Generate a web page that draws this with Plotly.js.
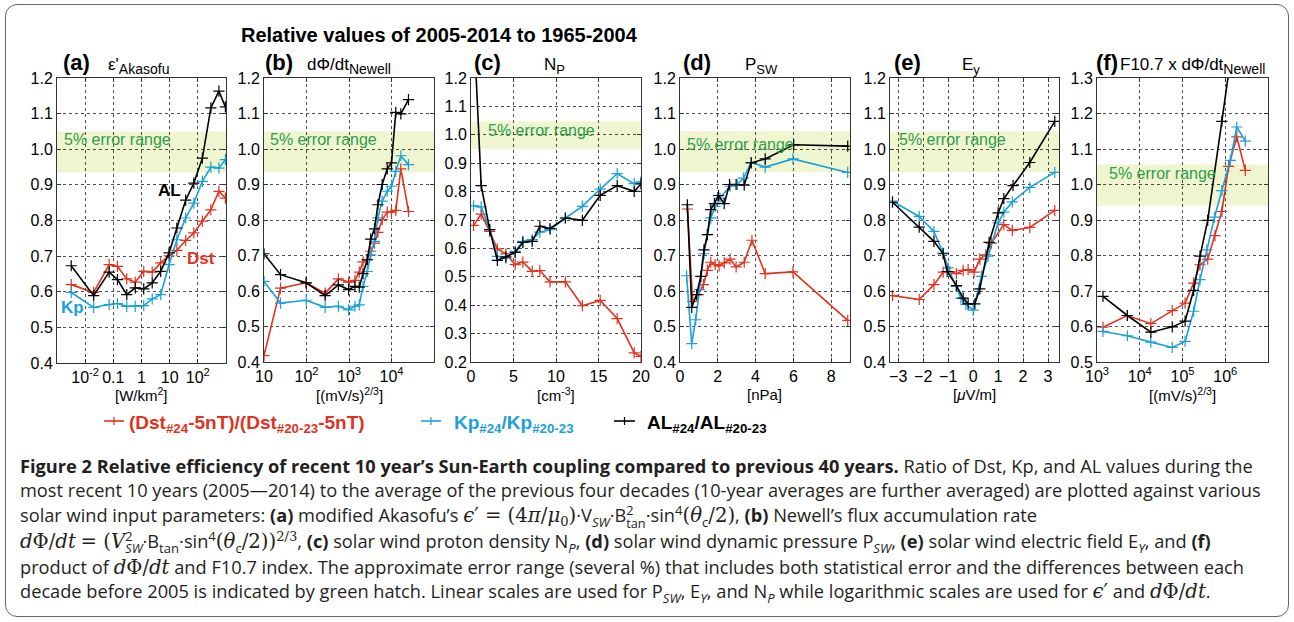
<!DOCTYPE html>
<html><head><meta charset="utf-8">
<script src="https://cdn.plot.ly/plotly-3.0.1.min.js"></script>
<style>
body{margin:0;background:#fff;}
#wrap{position:relative;width:1294px;height:622px;overflow:hidden;background:#fff;}
#frame{position:absolute;left:5px;top:4px;width:1284px;height:613px;border:1px solid #666;border-radius:12px;box-sizing:border-box;}
#chart{position:absolute;left:0;top:0;width:1294px;height:622px;}
#cap{position:absolute;left:20px;top:454px;font-family:'Open Sans',sans-serif;font-size:16px;line-height:24.4px;color:#231f20;white-space:nowrap;}
#cap b{font-weight:700;}
.m{font-family:'DejaVu Serif','Liberation Serif',serif;font-style:italic;font-size:1.08em;line-height:0;}
.r{font-family:'DejaVu Serif','Liberation Serif',serif;font-size:1.08em;line-height:0;}
.rf{font-family:'DejaVu Serif','Liberation Serif',serif;}
.stack{display:inline-block;vertical-align:-0.45em;line-height:0.95;font-size:0.7em;text-align:left;}
.stack span{display:block;}
sub,sup{font-size:0.72em;line-height:0;}
</style></head>
<body>
<div id="wrap">
<div id="chart"></div>
<div id="frame"></div>
<div id="cap">
<div id="l1"><b>Figure 2 Relative efficiency of recent 10 year’s Sun-Earth coupling compared to previous 40 years.</b> Ratio of Dst, Kp, and AL values during the</div>
<div id="l2"><span id="l2s">most recent 10 years (2005—2014) to the average of the previous four decades (10-year averages are further averaged) are plotted against various</span></div>
<div id="l3">solar wind input parameters: <b>(a)</b> modified Akasofu’s <span class="m">ϵ</span><span class="r">′ = (4</span><span class="m">π</span><span class="r">/</span><span class="m">μ</span><sub><span class="rf">0</span></sub><span class="r">)</span>·V<sub><i>SW</i></sub>·B<span class="stack"><span>2</span><span>tan</span></span>·sin<sup>4</sup><span class="r">(</span><span class="m">θ</span><sub>c</sub><span class="r">/2)</span>, <b>(b)</b> Newell’s flux accumulation rate</div>
<div id="l4"><span class="m">d</span><span class="r">Φ/</span><span class="m">dt</span> <span class="r">= (</span><span class="m">V</span><span class="stack"><span>2</span><span><i>SW</i></span></span>·B<sub>tan</sub>·sin<sup>4</sup><span class="r">(</span><span class="m">θ</span><sub>c</sub><span class="r">/2))</span><sup><span class="rf">2/3</span></sup>, <b>(c)</b> solar wind proton density N<sub><i>P</i></sub>, <b>(d)</b> solar wind dynamic pressure P<sub><i>SW</i></sub>, <b>(e)</b> solar wind electric field E<sub><i>Y</i></sub>, and <b>(f)</b></div>
<div id="l5">product of <span class="m">d</span><span class="r">Φ/</span><span class="m">dt</span> and F10.7 index. The approximate error range (several %) that includes both statistical error and the differences between each</div>
<div id="l6">decade before 2005 is indicated by green hatch. Linear scales are used for P<sub><i>SW</i></sub>, E<sub><i>Y</i></sub>, and N<sub><i>P</i></sub> while logarithmic scales are used for <span class="m">ϵ</span><span class="r">′</span> and <span class="m">d</span><span class="r">Φ/</span><span class="m">dt</span>.</div>
</div>
</div>
<script>
// ---------- DATA ----------
// (a) modified Akasofu epsilon' [W/km^2]
const aX   = [0.0032, 0.02, 0.071, 0.14, 0.30, 0.60, 1.2, 2.4, 4.8, 9.5, 18, 37, 72, 145, 290, 560, 950];
const aDst = [0.620, 0.598, 0.676, 0.671, 0.636, 0.627, 0.657, 0.655, 0.681, 0.701, 0.716, 0.744, 0.765, 0.798, 0.830, 0.882, 0.863];
const aKp  = [0.598, 0.556, 0.564, 0.567, 0.559, 0.559, 0.561, 0.580, 0.592, 0.676, 0.746, 0.807, 0.849, 0.910, 0.950, 0.947, 0.971];
const aAL  = [0.673, 0.589, 0.655, 0.634, 0.592, 0.611, 0.608, 0.625, 0.657, 0.709, 0.779, 0.857, 0.905, 0.975, 1.116, 1.163, 1.119];
// (b) Newell dPhi/dt [(mV/s)^(2/3)]
const bX   = [10, 24.5, 98, 275, 562, 977, 1380, 1740, 2140, 2690, 3240, 3980, 4790, 6030, 7940, 10000, 12600, 16600, 25100];
const bDst = [0.418, 0.608, 0.623, 0.594, 0.634, 0.625, 0.630, 0.653, 0.682, 0.688, 0.712, 0.735, 0.765, 0.801, 0.822, 0.822, 0.827, 0.944, 0.824];
const bKp  = [0.627, 0.566, 0.574, 0.554, 0.557, 0.547, 0.557, 0.561, 0.613, 0.655, 0.702, 0.740, 0.806, 0.853, 0.881, 0.895, 0.937, 0.981, 0.956];
const bAL  = [0.705, 0.646, 0.623, 0.587, 0.617, 0.604, 0.613, 0.611, 0.649, 0.688, 0.746, 0.775, 0.843, 0.900, 0.944, 0.961, 1.103, 1.099, 1.139];
// (c) proton density Np [cm^-3]
const cX   = [0.3, 1.2, 2.2, 3.1, 4.1, 5.2, 6.1, 7.2, 8.1, 9.3, 11.1, 13.1, 15.2, 17.2, 19.2, 20.0];
const cDst = [0.681, 0.721, 0.660, 0.598, 0.581, 0.543, 0.552, 0.519, 0.522, 0.482, 0.482, 0.398, 0.417, 0.353, 0.232, 0.220];
const cKp  = [0.750, 0.746, 0.666, 0.572, 0.566, 0.590, 0.625, 0.631, 0.657, 0.666, 0.707, 0.748, 0.809, 0.863, 0.828, 0.834];
const cAL  = [1.400, 0.821, 0.666, 0.558, 0.570, 0.586, 0.621, 0.625, 0.678, 0.670, 0.707, 0.699, 0.787, 0.821, 0.801, 0.827];
// (d) dynamic pressure Psw [nPa]
const dDstX = [0.39, 0.67, 0.97, 1.24, 1.45, 1.63, 1.86, 2.07, 2.34, 2.65, 2.97, 3.40, 3.81, 4.51, 5.98, 8.88];
const dDst  = [0.831, 0.571, 0.590, 0.618, 0.658, 0.681, 0.674, 0.671, 0.679, 0.690, 0.668, 0.681, 0.743, 0.649, 0.654, 0.517];
const dKpX  = [0.35, 0.62, 0.83, 1.03, 1.27, 1.45, 1.63, 1.86, 2.12, 2.65, 3.04, 3.36, 3.77, 4.51, 5.98, 8.88];
const dKp   = [0.643, 0.452, 0.519, 0.604, 0.705, 0.759, 0.806, 0.838, 0.862, 0.895, 0.900, 0.918, 0.962, 0.949, 0.972, 0.934];
const dALX  = [0.39, 0.62, 0.88, 1.10, 1.27, 1.45, 1.63, 1.82, 2.04, 2.34, 2.62, 2.97, 3.40, 3.77, 4.51, 6.02, 8.88];
const dAL   = [0.843, 0.554, 0.590, 0.641, 0.716, 0.759, 0.829, 0.846, 0.869, 0.846, 0.900, 0.900, 0.898, 0.961, 0.972, 1.012, 1.008];
// (e) electric field Ey [uV/m]
const eDstX = [-3.23, -2.16, -1.57, -1.2, -0.93, -0.67, -0.4, -0.2, 0.04, 0.27, 0.51, 0.73, 1.23, 1.57, 2.27, 3.27];
const eDst  = [0.587, 0.576, 0.618, 0.653, 0.655, 0.649, 0.658, 0.660, 0.653, 0.690, 0.702, 0.735, 0.787, 0.771, 0.779, 0.827];
const eKpX  = [-3.23, -2.16, -1.57, -1.2, -1.0, -0.67, -0.49, -0.29, 0.0, 0.33, 0.6, 1.0, 1.23, 1.57, 2.27, 3.27];
const eKp   = [0.853, 0.810, 0.768, 0.707, 0.665, 0.613, 0.580, 0.562, 0.546, 0.641, 0.698, 0.792, 0.822, 0.851, 0.892, 0.934];
const eALX  = [-3.23, -2.16, -1.57, -1.2, -1.04, -0.67, -0.4, -0.2, 0.07, 0.27, 0.64, 1.0, 1.23, 1.6, 2.27, 3.27];
const eAL   = [0.850, 0.780, 0.740, 0.705, 0.655, 0.615, 0.580, 0.564, 0.564, 0.606, 0.737, 0.820, 0.860, 0.897, 0.962, 1.078];
// (f) F10.7 x dPhi/dt [(mV/s)^(2/3)]
const fDstX = [1380, 5130, 18200, 57500, 115000, 182000, 257000, 389000, 575000, 832000, 1200000, 1860000, 2950000];
const fDst  = [0.598, 0.631, 0.608, 0.645, 0.666, 0.722, 0.774, 0.790, 0.856, 0.924, 1.051, 1.134, 1.040];
const fKpX  = [1380, 5130, 18200, 57500, 115000, 182000, 257000, 372000, 562000, 832000, 1320000, 1860000, 2950000];
const fKp   = [0.586, 0.574, 0.556, 0.541, 0.558, 0.643, 0.732, 0.816, 0.908, 0.983, 1.068, 1.162, 1.122];
const fALX  = [1380, 5130, 18200, 57500, 115000, 182000, 257000, 389000, 832000, 1320000];
const fAL   = [0.685, 0.631, 0.584, 0.599, 0.615, 0.702, 0.798, 0.899, 1.178, 1.350];

// tick labels
const aTickVals = [0.01, 0.1, 1, 10, 100];
const aTickText = ['10<sup>-2</sup>', '0.1', '1', '10', '10<sup>2</sup>'];
const bTickVals = [10, 100, 1000, 10000];
const bTickText = ['10', '10<sup>2</sup>', '10<sup>3</sup>', '10<sup>4</sup>'];
const cTickVals = [0, 5, 10, 15, 20];
const dTickVals = [0, 2, 4, 6, 8];
const eTickVals = [-3, -2, -1, 0, 1, 2, 3];
const fTickVals = [1e3, 1e4, 1e5, 1e6];
const fTickText = ['10<sup>3</sup>', '10<sup>4</sup>', '10<sup>5</sup>', '10<sup>6</sup>'];

// ---------- LAYOUT ----------
const W = 1294, H = 622;
const PX = x => x / W, PY = y => 1 - y / H;
const RED = '#e2321f', BLUE = '#1ba1d9', BLACK = '#000000', GREEN = '#2e9e4a';
const FONT = 'Liberation Sans, Arial, sans-serif';

const panels = [
  {xp:[57,226], yp:[78,363], type:'log', xr:[-3,3], yr:[0.4,1.2], band:[0.935,1.05], tv:aTickVals, tt:aTickText,
   s:[[aX,aDst],[aX,aKp],[aX,aAL]], unit:'[W/km<sup>2</sup>]', lab:'(a)', labx:61, sub:"ε'<sub><span style=\"font-size:14px\">Akasofu</span></sub>", subx:106, bt:1.027, btx:62},
  {xp:[264,434], yp:[78,362], type:'log', xr:[1,5], yr:[0.4,1.2], band:[0.935,1.05], tv:bTickVals, tt:bTickText,
   s:[[bX,bDst],[bX,bKp],[bX,bAL]], unit:'[(mV/s)<sup>2/3</sup>]', lab:'(b)', labx:263, sub:"dΦ/dt<sub><span style=\"font-size:14px\">Newell</span></sub>", subx:305, bt:1.026, btx:268},
  {xp:[471,641], yp:[78,362], type:'linear', xr:[0,20], yr:[0.2,1.2], band:[0.95,1.047], tv:cTickVals, tt:null,
   s:[[cX,cDst],[cX,cKp],[cX,cAL]], unit:'[cm<sup>-3</sup>]', lab:'(c)', labx:472, sub:"N<sub><span style=\"font-size:13px\">P</span></sub>", subx:542, bt:1.015, btx:486},
  {xp:[680,850], yp:[78,362], type:'linear', xr:[0,9], yr:[0.4,1.2], band:[0.935,1.05], tv:dTickVals, tt:null,
   s:[[dDstX,dDst],[dKpX,dKp],[dALX,dAL]], unit:'[nPa]', lab:'(d)', labx:681, sub:"P<sub><span style=\"font-size:13px\">SW</span></sub>", subx:743, bt:1.012, btx:685},
  {xp:[890,1059], yp:[78,362], type:'linear', xr:[-3.33,3.44], yr:[0.4,1.2], band:[0.935,1.05], tv:eTickVals, tt:null,
   s:[[eDstX,eDst],[eKpX,eKp],[eALX,eAL]], unit:'[<i>μ</i>V/m]', lab:'(e)', labx:892, sub:"E<sub><span style=\"font-size:13px\">y</span></sub>", subx:960, bt:1.026, btx:897},
  {xp:[1097,1268], yp:[78,362], type:'log', xr:[3,7], yr:[0.5,1.3], band:[0.94,1.056], tv:fTickVals, tt:fTickText,
   s:[[fDstX,fDst],[fKpX,fKp],[fALX,fAL]], unit:'[(mV/s)<sup>2/3</sup>]', lab:'(f)', labx:1094, sub:"F10.7 x dΦ/dt<sub><span style=\"font-size:14px\">Newell</span></sub>", subx:1118, bt:1.032, btx:1107}
];
const colors = [RED, BLUE, BLACK];

const data = [], shapes = [], annotations = [];
const layout = {width:W, height:H, margin:{l:0,r:0,t:0,b:0}, paper_bgcolor:'rgba(0,0,0,0)', plot_bgcolor:'rgba(0,0,0,0)',
  showlegend:false, font:{family:FONT, color:'#000'}, shapes, annotations};

panels.forEach((p, i) => {
  const k = i === 0 ? '' : String(i + 1);
  p.s.forEach((sr, j) => {
    data.push({type:'scatter', mode:'lines+markers', x:sr[0], y:sr[1], xaxis:'x'+k, yaxis:'y'+k, cliponaxis:true,
      line:{color:colors[j], width:1.6}, marker:{symbol:'cross-thin', size:8, line:{color:colors[j], width:1.2}}, hoverinfo:'skip'});
  });
  const common = {showgrid:true, gridcolor:'#222', gridwidth:0.8, griddash:'3px,3px', zeroline:false, showline:true,
    mirror:'ticks', linecolor:'#333', linewidth:1, ticks:'inside', ticklen:4, tickcolor:'#333',
    tickfont:{family:FONT, size:16, color:'#000'}, fixedrange:true};
  const xa = Object.assign({}, common, {domain:[PX(p.xp[0]), PX(p.xp[1])], anchor:'y'+k, type:p.type, range:p.xr,
    tickmode:'array', tickvals:p.tv});
  if (p.tt) xa.ticktext = p.tt;
  const ya = Object.assign({}, common, {domain:[PY(p.yp[1]), PY(p.yp[0])], anchor:'x'+k, range:p.yr,
    tick0:0, dtick:0.1, tickformat:'.1f'});
  layout['xaxis'+k] = xa; layout['yaxis'+k] = ya;
  shapes.push({type:'rect', xref:'x'+k+' domain', x0:0, x1:1, yref:'y'+k, y0:p.band[0], y1:p.band[1],
    fillcolor:'#eef5cf', line:{width:0}, layer:'below'});
  annotations.push({xref:'paper', yref:'y'+k, x:PX(p.btx), y:p.bt, xanchor:'left', yanchor:'middle', showarrow:false,
    text:'5% error range', font:{family:FONT, size:16, color:GREEN}});
  annotations.push({xref:'paper', yref:'paper', x:PX(p.labx), y:PY(63), xanchor:'left', yanchor:'middle', showarrow:false,
    text:'<b>'+p.lab+'</b>', font:{family:FONT, size:22, color:'#000'}});
  annotations.push({xref:'paper', yref:'paper', x:PX(p.subx), y:PY(66), xanchor:'left', yanchor:'middle', showarrow:false,
    text:p.sub, font:{family:FONT, size:17, color:'#000'}});
  annotations.push({xref:'paper', yref:'paper', x:PX((p.xp[0]+p.xp[1])/2), y:PY(394), xanchor:'center', yanchor:'middle', showarrow:false,
    text:p.unit, font:{family:FONT, size:15, color:'#000'}});
});

// main title
annotations.push({xref:'paper', yref:'paper', x:PX(439), y:PY(35), xanchor:'center', yanchor:'middle', showarrow:false,
  text:'<b>Relative values of 2005-2014 to 1965-2004</b>', font:{family:FONT, size:20, color:'#000'}});
// series labels in (a)
annotations.push({xref:'paper', yref:'paper', x:PX(169), y:PY(191), xanchor:'center', yanchor:'middle', showarrow:false, text:'<b>AL</b>', font:{family:FONT, size:17, color:BLACK}});
annotations.push({xref:'paper', yref:'paper', x:PX(201), y:PY(259), xanchor:'center', yanchor:'middle', showarrow:false, text:'<b>Dst</b>', font:{family:FONT, size:17, color:RED}});
annotations.push({xref:'paper', yref:'paper', x:PX(72), y:PY(307), xanchor:'center', yanchor:'middle', showarrow:false, text:'<b>Kp</b>', font:{family:FONT, size:17, color:BLUE}});

// legend
const legendItems = [
  {c:RED, text:'<b>(Dst<sub>#24</sub>-5nT)/(Dst<sub>#20-23</sub>-5nT)</b>', x:367, anchor:'right', m:[104,124]},
  {c:BLUE, text:'<b>Kp<sub>#24</sub>/Kp<sub>#20-23</sub></b>', x:452, anchor:'left', m:[421,441]},
  {c:BLACK, text:'<b>AL<sub>#24</sub>/AL<sub>#20-23</sub></b>', x:645, anchor:'left', m:[614,635]}
];
legendItems.forEach(it => {
  annotations.push({xref:'paper', yref:'paper', x:PX(it.x), y:PY(424), xanchor:it.anchor, yanchor:'middle', showarrow:false,
    text:it.text, font:{family:FONT, size:19, color:it.c}});
  shapes.push({type:'line', xref:'paper', yref:'paper', x0:PX(it.m[0]), x1:PX(it.m[1]), y0:PY(421), y1:PY(421), line:{color:it.c, width:1.6}});
  const xc = (it.m[0]+it.m[1])/2;
  shapes.push({type:'line', xref:'paper', yref:'paper', x0:PX(xc), x1:PX(xc), y0:PY(417), y1:PY(425), line:{color:it.c, width:1.2}});
});

Plotly.newPlot('chart', data, layout, {staticPlot:true, displayModeBar:false});

// fit caption font size so that the full-width line 2 spans the same width as in the figure
function fitCaption(){
  const cap = document.getElementById('cap');
  cap.style.fontSize = '16px';
  const w = document.getElementById('l2s').offsetWidth;
  if (w > 0) cap.style.fontSize = (16 * 1242 / w).toFixed(2) + 'px';
}
fitCaption();
if (document.fonts && document.fonts.ready) document.fonts.ready.then(fitCaption);
</script>
</body></html>
